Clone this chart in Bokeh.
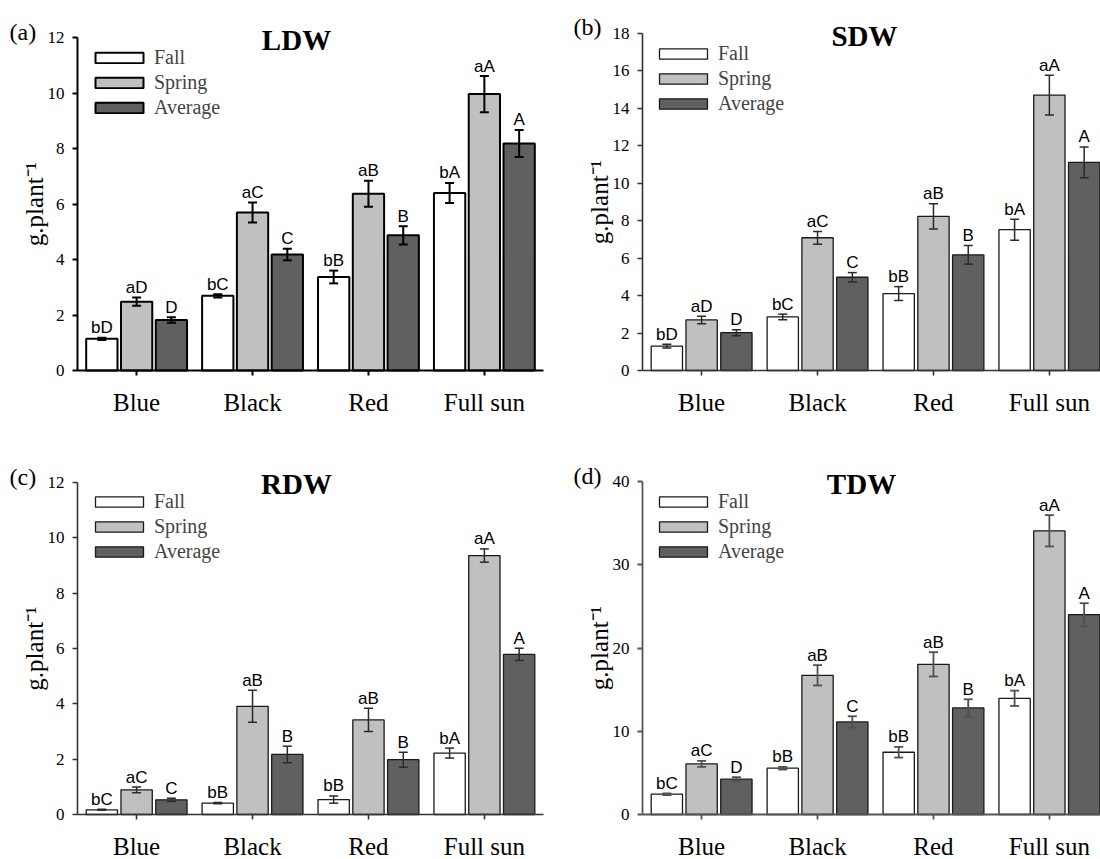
from bokeh.plotting import figure
from bokeh.models import (ColumnDataSource, Range1d, FixedTicker, Whisker, TeeHead,
                          Legend, LegendItem, Label)
from bokeh.layouts import column, row
from bokeh.core.properties import value
from bokeh.embed import file_html
from bokeh.resources import INLINE

# ---------------- data ----------------
categories = ["Blue", "Black", "Red", "Full sun"]
seasons = ["Fall", "Spring", "Average"]

# LDW
ldw_fall = [1.14, 2.69, 3.37, 6.40]
ldw_fall_err = [0.04, 0.06, 0.23, 0.36]
ldw_spring = [2.48, 5.69, 6.37, 9.96]
ldw_spring_err = [0.15, 0.36, 0.47, 0.65]
ldw_avg = [1.82, 4.18, 4.87, 8.18]
ldw_avg_err = [0.10, 0.21, 0.33, 0.49]
ldw_fall_lab = ["bD", "bC", "bB", "bA"]
ldw_spring_lab = ["aD", "aC", "aB", "aA"]
ldw_avg_lab = ["D", "C", "B", "A"]

# SDW
sdw_fall = [1.30, 2.86, 4.11, 7.52]
sdw_fall_err = [0.10, 0.15, 0.37, 0.56]
sdw_spring = [2.70, 7.09, 8.23, 14.71]
sdw_spring_err = [0.20, 0.34, 0.67, 1.06]
sdw_avg = [2.02, 4.98, 6.18, 11.12]
sdw_avg_err = [0.16, 0.25, 0.50, 0.82]
sdw_fall_lab = ["bD", "bC", "bB", "bA"]
sdw_spring_lab = ["aD", "aC", "aB", "aA"]
sdw_avg_lab = ["D", "C", "B", "A"]

# RDW
rdw_fall = [0.17, 0.41, 0.54, 2.22]
rdw_fall_err = [0.02, 0.02, 0.13, 0.18]
rdw_spring = [0.89, 3.91, 3.42, 9.36]
rdw_spring_err = [0.10, 0.58, 0.42, 0.24]
rdw_avg = [0.53, 2.17, 1.98, 5.79]
rdw_avg_err = [0.06, 0.30, 0.27, 0.22]
rdw_fall_lab = ["bC", "bB", "bB", "bA"]
rdw_spring_lab = ["aC", "aB", "aB", "aA"]
rdw_avg_lab = ["C", "B", "B", "A"]

# TDW
tdw_fall = [2.44, 5.56, 7.48, 13.96]
tdw_fall_err = [0.10, 0.16, 0.64, 0.92]
tdw_spring = [6.08, 16.72, 18.04, 34.08]
tdw_spring_err = [0.36, 1.22, 1.46, 1.88]
tdw_avg = [4.24, 11.12, 12.80, 24.00]
tdw_avg_err = [0.24, 0.68, 1.04, 1.38]
tdw_fall_lab = ["bC", "bB", "bB", "bA"]
tdw_spring_lab = ["aC", "aB", "aB", "aA"]
tdw_avg_lab = ["D", "C", "B", "A"]

y_label = "g.plant\u207b\u00b9"

# ---------------- styling ----------------
FILL = {"Fall": "#ffffff", "Spring": "#c0c0c0", "Average": "#606060"}
OFFS = {"Fall": -0.30, "Spring": 0.0, "Average": 0.30}
SERIF = "Liberation Serif"
SANS = "Liberation Sans"
X0, X1 = -0.51, 3.51          # extent of the drawn x axis (category units)
PX_PER_CAT = 115.92           # horizontal scale, pixels per category

STYLE_A = dict(bar_line="#000000", bar_lw=2.0, err="#000000", err_lw=2.0, axis="#000000", axis_lw=2.0)
STYLE_B = dict(bar_line="#1a1a1a", bar_lw=1.3, err="#2a2a2a", err_lw=1.5, axis="#333333", axis_lw=1.6)
STYLE_D = dict(bar_line="#1a1a1a", bar_lw=1.3, err="#505050", err_lw=1.8, axis="#555555", axis_lw=1.8)


def make_panel(tag, title, series, y_max, y_step, W, H, L, T, B,
               title_pos, tag_pos, legend_pos, style):
    # frame covers the whole figure; axes are pinned at fixed data locations
    sx = PX_PER_CAT
    sy = (B - T) / y_max
    x_range = Range1d(X0 - L / sx, X0 + (W - L) / sx)
    y_range = Range1d(-(H - B) / sy, B / sy)
    p = figure(width=W, height=H, x_range=x_range, y_range=y_range,
               output_backend="svg", toolbar_location=None,
               min_border=0, min_border_left=0, min_border_right=0,
               min_border_top=0, min_border_bottom=0,
               outline_line_color=None)
    p.xgrid.visible = False
    p.ygrid.visible = False

    items = []
    for name, vals, errs, labs in series:
        xs = [i + OFFS[name] for i in range(len(categories))]
        src = ColumnDataSource(dict(
            x=xs, top=vals,
            upper=[v + e for v, e in zip(vals, errs)],
            lower=[v - e for v, e in zip(vals, errs)],
            lab=labs))
        r = p.vbar(x="x", top="top", bottom=0, width=0.27, source=src,
                   fill_color=FILL[name], line_color=style["bar_line"],
                   line_width=style["bar_lw"])
        items.append(LegendItem(label=name, renderers=[r]))
        w = Whisker(base="x", upper="upper", lower="lower", source=src,
                    level="annotation", line_color=style["err"],
                    line_width=style["err_lw"],
                    upper_head=TeeHead(size=9, line_color=style["err"], line_width=style["err_lw"]),
                    lower_head=TeeHead(size=9, line_color=style["err"], line_width=style["err_lw"]))
        p.add_layout(w)
        p.text(x="x", y="upper", text="lab", source=src,
               text_font=value(SANS), text_font_size="17px",
               text_align="center", text_baseline="alphabetic",
               y_offset=-10, text_color="#000000")

    lx, ltop = legend_pos
    legend = Legend(items=items, location=(lx, H - ltop - 73), margin=0, padding=0,
                    spacing=2, glyph_width=60, glyph_height=13,
                    label_standoff=5, label_height=23,
                    label_text_font=SERIF, label_text_font_size="20px",
                    background_fill_alpha=0, border_line_alpha=0)
    p.add_layout(legend)

    # axes
    xa = p.xaxis[0]
    xa.fixed_location = 0
    xa.bounds = (X0, X1)
    xa.ticker = FixedTicker(ticks=list(range(len(categories))))
    xa.major_label_overrides = {i: c for i, c in enumerate(categories)}
    xa.major_label_text_font = SERIF
    xa.major_label_text_font_size = "25px"
    xa.major_label_text_color = "#000000"
    xa.major_label_standoff = 13
    xa.major_tick_in = 0
    xa.major_tick_out = 5
    xa.minor_tick_in = 0
    xa.minor_tick_out = 0

    ya = p.yaxis[0]
    ya.fixed_location = X0
    ya.bounds = (0, y_max)
    ya.ticker = FixedTicker(ticks=list(range(0, y_max + 1, y_step)))
    ya.major_label_text_font = SERIF
    ya.major_label_text_font_size = "17px"
    ya.major_label_text_color = "#000000"
    ya.major_label_standoff = 8
    ya.major_tick_in = 0
    ya.major_tick_out = 5
    ya.minor_tick_in = 0
    ya.minor_tick_out = 0
    ya.axis_label = y_label
    ya.axis_label_text_font = SERIF
    ya.axis_label_text_font_size = "25px"
    ya.axis_label_text_font_style = "normal"
    ya.axis_label_text_color = "#000000"
    ya.axis_label_standoff = -3

    for ax in (xa, ya):
        ax.axis_line_color = style["axis"]
        ax.axis_line_width = style["axis_lw"]
        ax.major_tick_line_color = style["axis"]
        ax.major_tick_line_width = style["axis_lw"]

    tx, tb = title_pos
    p.add_layout(Label(x=tx, y=H - tb, x_units="screen", y_units="screen",
                       text=title, text_font=SERIF, text_font_style="bold",
                       text_font_size="29px", text_align="center",
                       text_baseline="alphabetic", text_color="#000000"))
    gx, gb = tag_pos
    p.add_layout(Label(x=gx, y=H - gb, x_units="screen", y_units="screen",
                       text=tag, text_font=SERIF, text_font_size="24px",
                       text_align="left", text_baseline="alphabetic",
                       text_color="#000000"))
    return p


pa = make_panel("(a)", "LDW",
                [("Fall", ldw_fall, ldw_fall_err, ldw_fall_lab),
                 ("Spring", ldw_spring, ldw_spring_err, ldw_spring_lab),
                 ("Average", ldw_avg, ldw_avg_err, ldw_avg_lab)],
                12, 2, 550, 445, 77, 37, 370,
                (296, 39), (9, 31), (89, 45.5), STYLE_A)
pb = make_panel("(b)", "SDW",
                [("Fall", sdw_fall, sdw_fall_err, sdw_fall_lab),
                 ("Spring", sdw_spring, sdw_spring_err, sdw_spring_lab),
                 ("Average", sdw_avg, sdw_avg_err, sdw_avg_lab)],
                18, 2, 550, 445, 92, 33, 370,
                (314, 35), (23, 26), (103, 41.8), STYLE_B)
pc = make_panel("(c)", "RDW",
                [("Fall", rdw_fall, rdw_fall_err, rdw_fall_lab),
                 ("Spring", rdw_spring, rdw_spring_err, rdw_spring_lab),
                 ("Average", rdw_avg, rdw_avg_err, rdw_avg_lab)],
                12, 2, 550, 414, 77, 37, 369,
                (296, 38), (9, 31), (89, 44.5), STYLE_B)
pd_ = make_panel("(d)", "TDW",
                 [("Fall", tdw_fall, tdw_fall_err, tdw_fall_lab),
                  ("Spring", tdw_spring, tdw_spring_err, tdw_spring_lab),
                  ("Average", tdw_avg, tdw_avg_err, tdw_avg_lab)],
                 40, 10, 550, 414, 92, 36, 369,
                 (311, 38), (23, 30), (103, 44.5), STYLE_D)

layout = column(row(pa, pb), row(pc, pd_))
open("out.html", "w").write(file_html(layout, INLINE))
